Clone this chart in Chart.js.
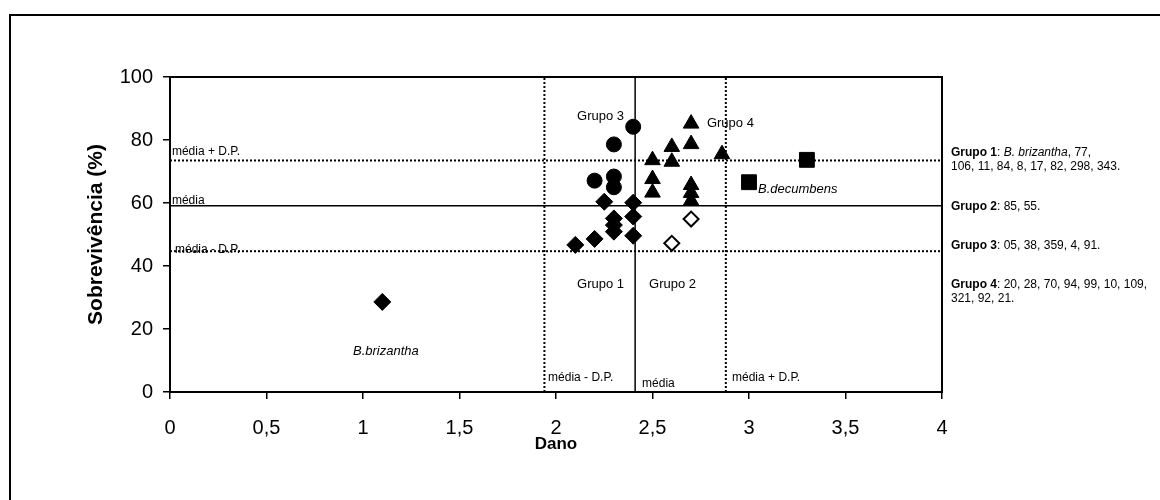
<!DOCTYPE html>
<html>
<head>
<meta charset="utf-8">
<script src="https://cdn.jsdelivr.net/npm/chart.js@4.4.1/dist/chart.umd.min.js"></script>
<style>
  body { margin: 0; background: #fff; }
  #wrap { width: 1160px; height: 500px; }
</style>
</head>
<body>
<div id="wrap"><canvas id="grafico"></canvas></div>
<script>
// pontos [dano, sobrevivência %]
const grupo1 = [[1.1, 28.6], [2.1, 46.7], [2.2, 48.6], [2.25, 60.4], [2.3, 55.1], [2.3, 53.0], [2.3, 50.9], [2.4, 60.1], [2.4, 55.7], [2.4, 49.6]];
const grupo2 = [[2.6, 47.2], [2.7, 54.9]];
const grupo3 = [[2.2, 67.1], [2.3, 78.6], [2.3, 68.4], [2.3, 65.0], [2.4, 84.2]];
const grupo4 = [[2.5, 73.6], [2.5, 67.6], [2.5, 63.3], [2.6, 77.8], [2.6, 73.1], [2.7, 85.2], [2.7, 78.7], [2.7, 65.7], [2.7, 63.2], [2.7, 60.7], [2.86, 75.5]];
const decumbens = [[3.0, 66.6], [3.3, 73.7]];

// média - D.P., média, média + D.P.
const refDano = [1.94, 2.41, 2.88];
const refSobrev = [44.7, 59.1, 73.5];

const danoTicks = [0, 0.5, 1, 1.5, 2, 2.5, 3, 3.5, 4];
const sobrevTicks = [0, 20, 40, 60, 80, 100];

const gruposTexto = [
  [['Grupo 1', 'b'], [': ', ''], ['B. brizantha', 'i'], [', 77,', '']],
  [['106, 11, 84, 8, 17, 82, 298, 343.', '']],
  [['Grupo 2', 'b'], [': 85, 55.', '']],
  [['Grupo 3', 'b'], [': 05, 38, 359, 4, 91.', '']],
  [['Grupo 4', 'b'], [': 20, 28, 70, 94, 99, 10, 109,', '']],
  [['321, 92, 21.', '']]
];

const notas = [
  { texto: 'Grupo 3', x: 2.109, y: 87.6, fonte: '13px "Liberation Sans"' },
  { texto: 'Grupo 4', x: 2.782, y: 85.4, fonte: '13px "Liberation Sans"' },
  { texto: 'Grupo 1', x: 2.109, y: 34.0, fonte: '13px "Liberation Sans"' },
  { texto: 'Grupo 2', x: 2.482, y: 34.0, fonte: '13px "Liberation Sans"' },
  { texto: 'média - D.P.', x: 1.959, y: 4.5, fonte: '12px "Liberation Sans"' },
  { texto: 'média', x: 2.446, y: 2.5, fonte: '12px "Liberation Sans"' },
  { texto: 'média + D.P.', x: 2.912, y: 4.5, fonte: '12px "Liberation Sans"' },
  { texto: 'média + D.P.', x: 0.01, y: 76.3, fonte: '12px "Liberation Sans"' },
  { texto: 'média', x: 0.01, y: 60.7, fonte: '12px "Liberation Sans"' },
  { texto: 'média - D.P.', x: 0.026, y: 45.1, fonte: '12px "Liberation Sans"' },
  { texto: 'B.brizantha', x: 0.948, y: 12.8, fonte: 'italic 13px "Liberation Sans"' },
  { texto: 'B.decumbens', x: 3.047, y: 64.3, fonte: 'italic 13px "Liberation Sans"' }
];

const pts = arr => arr.map(p => ({ x: p[0], y: p[1] }));

function linhaH(v, dash) {
  return { type: 'line', data: [{ x: 0, y: v }, { x: 4, y: v }], borderColor: '#000', borderWidth: dash ? 2 : 1.5,
    borderDash: dash ? [2, 2] : [], pointRadius: 0, showLine: true, order: 10 };
}
function linhaV(v, dash) {
  return { type: 'line', data: [{ x: v, y: 0 }, { x: v, y: 100 }], borderColor: '#000', borderWidth: dash ? 2 : 1.5,
    borderDash: dash ? [2, 2] : [], pointRadius: 0, showLine: true, order: 10 };
}

const fundo = {
  id: 'fundo',
  beforeDraw(chart) {
    const ctx = chart.ctx;
    ctx.save();
    ctx.fillStyle = '#fff';
    ctx.fillRect(0, 0, chart.width, chart.height);
    ctx.strokeStyle = '#000';
    ctx.lineWidth = 2;
    ctx.strokeRect(10, 15, chart.width + 20, chart.height + 20);
    ctx.restore();
  },
  afterDatasetsDraw(chart) {
    const { ctx, chartArea: a, scales: { x, y } } = chart;
    ctx.save();
    ctx.strokeStyle = '#000';
    ctx.lineWidth = 2;
    ctx.strokeRect(a.left, a.top, a.right - a.left, a.bottom - a.top);
    ctx.fillStyle = '#000';
    ctx.textBaseline = 'middle';
    notas.forEach(n => {
      ctx.font = n.fonte;
      ctx.fillText(n.texto, x.getPixelForValue(n.x), y.getPixelForValue(n.y));
    });
    // texto dos grupos à direita
    const linhasY = [153, 167, 207, 246, 285, 299];
    gruposTexto.forEach((linha, i) => {
      let px = a.right + 9;
      linha.forEach(([t, s]) => {
        ctx.font = (s === 'b' ? 'bold ' : s === 'i' ? 'italic ' : '') + '12px "Liberation Sans"';
        ctx.fillText(t, px, linhasY[i]);
        px += ctx.measureText(t).width;
      });
    });
    ctx.restore();
  }
};

const fonteTick = { family: '"Liberation Sans"', size: 20 };

new Chart(document.getElementById('grafico'), {
  type: 'scatter',
  data: {
    datasets: [
      { data: pts(grupo1), pointStyle: 'rectRot', pointRadius: 8.5, backgroundColor: '#000', borderColor: '#000', borderWidth: 1, order: 1 },
      { data: pts(grupo2), pointStyle: 'rectRot', pointRadius: 7.5, backgroundColor: '#fff', borderColor: '#000', borderWidth: 2, order: 1 },
      { data: pts(grupo3), pointStyle: 'circle', pointRadius: 7.5, backgroundColor: '#000', borderColor: '#000', borderWidth: 1, order: 1 },
      { data: pts(grupo4), pointStyle: 'triangle', pointRadius: 9, backgroundColor: '#000', borderColor: '#000', borderWidth: 1, order: 1 },
      { data: pts(decumbens), pointStyle: 'rect', pointRadius: 10.5, backgroundColor: '#000', borderColor: '#000', borderWidth: 1, order: 1 },
      linhaH(refSobrev[0], true), linhaH(refSobrev[1], false), linhaH(refSobrev[2], true),
      linhaV(refDano[0], true), linhaV(refDano[1], false), linhaV(refDano[2], true)
    ]
  },
  options: {
    responsive: true,
    maintainAspectRatio: false,
    animation: false,
    layout: { padding: { top: 77, right: 218, bottom: 0, left: 0 } },
    plugins: { legend: { display: false }, tooltip: { enabled: false } },
    scales: {
      x: {
        type: 'linear', min: 0, max: 4,
        afterFit: s => { s.height = 108; },
        afterBuildTicks: s => { s.ticks = danoTicks.map(v => ({ value: v })); },
        ticks: { color: '#000', font: fonteTick, padding: 17, callback: v => String(v).replace('.', ',') },
        grid: { drawOnChartArea: false, color: '#000', lineWidth: 1.5, tickLength: 7 },
        border: { color: '#000', width: 2 },
        title: { display: true, text: 'Dano', color: '#000', font: { family: '"Liberation Sans"', size: 17, weight: 'bold' }, padding: { top: 0, bottom: 45 } }
      },
      y: {
        min: 0, max: 100,
        afterFit: s => { s.width = 170; },
        afterBuildTicks: s => { s.ticks = sobrevTicks.map(v => ({ value: v })); },
        ticks: { color: '#000', font: fonteTick, padding: 10 },
        grid: { drawOnChartArea: false, color: '#000', lineWidth: 1.5, tickLength: 7 },
        border: { color: '#000', width: 2 },
        title: { display: true, text: 'Sobrevivência (%)', color: '#000', font: { family: '"Liberation Sans"', size: 21, weight: 'bold' }, padding: { top: 84, bottom: 0 } }
      }
    }
  },
  plugins: [fundo]
});
</script>
</body>
</html>
